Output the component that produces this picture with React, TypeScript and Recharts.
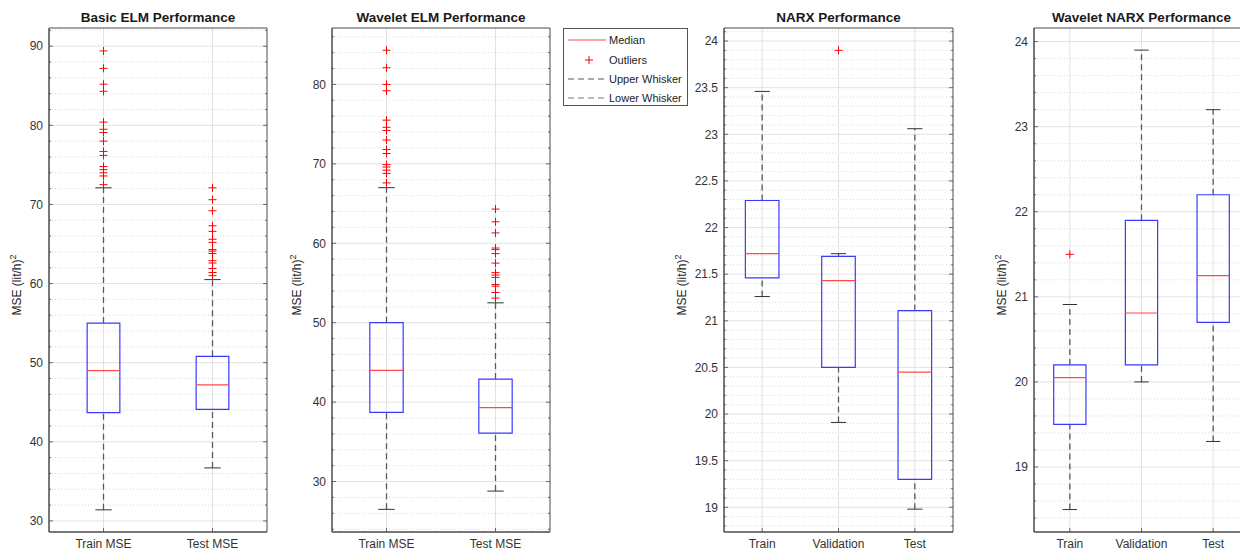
import React from 'react';
import {
  ComposedChart,
  XAxis,
  YAxis,
  CartesianGrid,
  ReferenceArea,
  ReferenceLine,
  Scatter,
} from 'recharts';

const FONT = '"Liberation Sans", Arial, Helvetica, sans-serif';

// ---------- Basic ELM ----------
const basicElmCategories = ['Train MSE', 'Test MSE'];
const basicElmLowerWhisker = [31.4, 36.7];
const basicElmQ1 = [43.7, 44.1];
const basicElmMedian = [49.0, 47.2];
const basicElmQ3 = [55.0, 50.8];
const basicElmUpperWhisker = [72.1, 60.5];
const basicElmTrainOutliers = [72.5, 73.6, 74.0, 74.4, 74.8, 76.2, 76.7, 78.0, 79.1, 79.5, 80.4, 84.3, 85.2, 87.2, 89.4];
const basicElmTestOutliers = [61.0, 61.4, 61.9, 62.6, 62.9, 63.8, 64.1, 64.3, 65.2, 65.6, 66.6, 67.3, 69.2, 70.6, 72.1];
const basicElmTicks = [30, 40, 50, 60, 70, 80, 90];

// ---------- Wavelet ELM ----------
const waveletElmCategories = ['Train MSE', 'Test MSE'];
const waveletElmLowerWhisker = [26.5, 28.8];
const waveletElmQ1 = [38.7, 36.1];
const waveletElmMedian = [44.0, 39.3];
const waveletElmQ3 = [50.0, 42.9];
const waveletElmUpperWhisker = [67.0, 52.5];
const waveletElmTrainOutliers = [67.6, 68.8, 69.2, 69.6, 69.9, 71.3, 71.8, 73.0, 74.2, 74.6, 75.5, 79.2, 80.0, 82.1, 84.3];
const waveletElmTestOutliers = [53.1, 53.8, 54.6, 54.8, 55.7, 56.0, 56.3, 57.5, 58.7, 59.2, 59.4, 61.3, 62.7, 64.3];
const waveletElmTicks = [30, 40, 50, 60, 70, 80];

// ---------- NARX ----------
const narxCategories = ['Train', 'Validation', 'Test'];
const narxLowerWhisker = [21.26, 19.91, 18.98];
const narxQ1 = [21.46, 20.5, 19.3];
const narxMedian = [21.72, 21.43, 20.45];
const narxQ3 = [22.29, 21.69, 21.11];
const narxUpperWhisker = [23.46, 21.72, 23.06];
const narxTrainOutliers: number[] = [];
const narxValidationOutliers = [23.9];
const narxTestOutliers: number[] = [];
const narxTicks = [19, 19.5, 20, 20.5, 21, 21.5, 22, 22.5, 23, 23.5, 24];

// ---------- Wavelet NARX ----------
const waveletNarxCategories = ['Train', 'Validation', 'Test'];
const waveletNarxLowerWhisker = [18.5, 20.0, 19.3];
const waveletNarxQ1 = [19.5, 20.2, 20.7];
const waveletNarxMedian = [20.05, 20.81, 21.25];
const waveletNarxQ3 = [20.2, 21.9, 22.2];
const waveletNarxUpperWhisker = [20.91, 23.9, 23.2];
const waveletNarxTrainOutliers = [21.5];
const waveletNarxValidationOutliers: number[] = [];
const waveletNarxTestOutliers: number[] = [];
const waveletNarxTicks = [19, 20, 21, 22, 23, 24];

type Panel = {
  title: string;
  categories: string[];
  lo: number[];
  q1: number[];
  med: number[];
  q3: number[];
  hi: number[];
  outliers: number[][];
  domain: [number, number];
  majors: number[];
  minorStep: number;
  boxHalf: number;
  capHalf: number;
  left: number;
  width: number;
  yAxisWidth: number;
  rightMargin: number;
  plotWidth: number;
  labelX: number;
};

function minorTicks(domain: [number, number], step: number, majors: number[]) {
  const out: number[] = [];
  const start = Math.ceil(domain[0] / step - 1e-9);
  const end = Math.floor(domain[1] / step + 1e-9);
  for (let k = start; k <= end; k++) {
    const v = Math.round(k * step * 1000) / 1000;
    if (!majors.some((m) => Math.abs(m - v) < 1e-6)) out.push(v);
  }
  return out;
}

const panels: Panel[] = [
  {
    title: 'Basic ELM Performance',
    categories: basicElmCategories,
    lo: basicElmLowerWhisker,
    q1: basicElmQ1,
    med: basicElmMedian,
    q3: basicElmQ3,
    hi: basicElmUpperWhisker,
    outliers: [basicElmTrainOutliers, basicElmTestOutliers],
    domain: [28.6, 92.3],
    majors: basicElmTicks,
    minorStep: 2,
    boxHalf: 0.15,
    capHalf: 0.075,
    left: 0,
    width: 280,
    yAxisWidth: 49,
    rightMargin: 12,
    plotWidth: 218,
    labelX: 17,
  },
  {
    title: 'Wavelet ELM Performance',
    categories: waveletElmCategories,
    lo: waveletElmLowerWhisker,
    q1: waveletElmQ1,
    med: waveletElmMedian,
    q3: waveletElmQ3,
    hi: waveletElmUpperWhisker,
    outliers: [waveletElmTrainOutliers, waveletElmTestOutliers],
    domain: [23.65, 87.1],
    majors: waveletElmTicks,
    minorStep: 2,
    boxHalf: 0.153,
    capHalf: 0.075,
    left: 290,
    width: 270,
    yAxisWidth: 42,
    rightMargin: 9,
    plotWidth: 218,
    labelX: 297,
  },
  {
    title: 'NARX Performance',
    categories: narxCategories,
    lo: narxLowerWhisker,
    q1: narxQ1,
    med: narxMedian,
    q3: narxQ3,
    hi: narxUpperWhisker,
    outliers: [narxTrainOutliers, narxValidationOutliers, narxTestOutliers],
    domain: [18.735, 24.14],
    majors: narxTicks,
    minorStep: 0.1,
    boxHalf: 0.22,
    capHalf: 0.1,
    left: 640,
    width: 320,
    yAxisWidth: 84,
    rightMargin: 6,
    plotWidth: 229,
    labelX: 682,
  },
  {
    title: 'Wavelet NARX Performance',
    categories: waveletNarxCategories,
    lo: waveletNarxLowerWhisker,
    q1: waveletNarxQ1,
    med: waveletNarxMedian,
    q3: waveletNarxQ3,
    hi: waveletNarxUpperWhisker,
    outliers: [waveletNarxTrainOutliers, waveletNarxValidationOutliers, waveletNarxTestOutliers],
    domain: [18.236, 24.16],
    majors: waveletNarxTicks,
    minorStep: 0.2,
    boxHalf: 0.225,
    capHalf: 0.1,
    left: 960,
    width: 300,
    yAxisWidth: 74,
    rightMargin: 10,
    plotWidth: 215,
    labelX: 1002,
  },
];

const PLOT_TOP = 28;
const X_AXIS_H = 17;
const CHART_H = 549;
const AXIS_COLOR = '#4a4a4a';
const TEXT_COLOR = '#333333';
const BOX_COLOR = '#3a3aff';
const MEDIAN_COLOR = '#ff4a4a';
const WHISKER_COLOR = '#5a5a5a';

const isMajor = (majors: number[], v: number) => majors.some((m) => Math.abs(m - v) < 1e-6);

const LeftTick = (props: any) => {
  const { x, y, payload, majors } = props;
  const v = payload.value;
  const major = isMajor(majors, v);
  return (
    <g>
      <line x1={x} x2={x + (major ? 4 : 2)} y1={y} y2={y} stroke={AXIS_COLOR} strokeWidth={0.8} />
      {major && (
        <text x={x - 6} y={y} dy={4.3} textAnchor="end" fontSize={12} fontFamily={FONT} fill={TEXT_COLOR}>
          {String(v)}
        </text>
      )}
    </g>
  );
};

const RightTick = (props: any) => {
  const { x, y, payload, majors } = props;
  const major = isMajor(majors, payload.value);
  return <line x1={x} x2={x - (major ? 4 : 2)} y1={y} y2={y} stroke={AXIS_COLOR} strokeWidth={0.8} />;
};

const BottomTick = (props: any) => {
  const { x, y, payload, categories } = props;
  return (
    <g>
      <line x1={x} x2={x} y1={y} y2={y - 4} stroke={AXIS_COLOR} strokeWidth={0.8} />
      <text x={x} y={y + 15.5} textAnchor="middle" fontSize={12} fontFamily={FONT} fill={TEXT_COLOR}>
        {categories[payload.value - 1]}
      </text>
    </g>
  );
};

const PlusShape = (props: any) => {
  const { cx, cy } = props;
  if (cx == null || cy == null) return null;
  return (
    <g>
      <line x1={cx - 4} x2={cx + 4} y1={cy} y2={cy} stroke="#ff0000" strokeWidth={1} />
      <line x1={cx} x2={cx} y1={cy - 4} y2={cy + 4} stroke="#ff0000" strokeWidth={1} />
    </g>
  );
};

function BoxPanel({ p }: { p: Panel }) {
  const n = p.categories.length;
  const xs = p.categories.map((_, i) => i + 1);
  const minors = minorTicks(p.domain, p.minorStep, p.majors);
  const allTicks = [...minors, ...p.majors].sort((a, b) => a - b);
  const outlierData = p.outliers.flatMap((arr, i) => arr.map((v) => ({ x: i + 1, y: v })));

  return (
    <div style={{ position: 'absolute', left: p.left, top: 0, width: p.width, height: CHART_H }}>
      <ComposedChart
        width={p.width}
        height={CHART_H}
        margin={{ top: PLOT_TOP, right: p.rightMargin, bottom: 0, left: 0 }}
      >
        <CartesianGrid
          horizontalValues={minors}
          vertical={false}
          stroke="#cfcfcf"
          strokeDasharray="1 2"
          strokeWidth={0.8}
        />
        <CartesianGrid
          horizontalValues={p.majors}
          verticalValues={xs}
          stroke="#e2e2e2"
          strokeWidth={1}
        />
        <XAxis
          type="number"
          dataKey="x"
          domain={[0.5, n + 0.5]}
          ticks={xs}
          interval={0}
          allowDataOverflow
          height={X_AXIS_H}
          tickLine={false}
          tickSize={0}
          tickMargin={0}
          axisLine={{ stroke: AXIS_COLOR }}
          tick={<BottomTick categories={p.categories} />}
        />
        <YAxis
          type="number"
          dataKey="y"
          domain={p.domain}
          allowDataOverflow
          ticks={allTicks}
          interval={0}
          width={p.yAxisWidth}
          tickLine={false}
          tickSize={0}
          tickMargin={0}
          axisLine={{ stroke: AXIS_COLOR }}
          tick={<LeftTick majors={p.majors} />}
        />
        <YAxis
          yAxisId="right"
          orientation="right"
          type="number"
          domain={p.domain}
          allowDataOverflow
          ticks={allTicks}
          interval={0}
          width={1}
          tickLine={false}
          tickSize={0}
          tickMargin={0}
          axisLine={false}
          tick={<RightTick majors={p.majors} />}
        />
        {xs.map((x, i) => (
          <ReferenceLine
            key={`wu${i}`}
            segment={[{ x, y: p.q3[i] }, { x, y: p.hi[i] }]}
            stroke={WHISKER_COLOR}
            strokeWidth={1.3}
            strokeDasharray="6 4"
          />
        ))}
        {xs.map((x, i) => (
          <ReferenceLine
            key={`wl${i}`}
            segment={[{ x, y: p.lo[i] }, { x, y: p.q1[i] }]}
            stroke={WHISKER_COLOR}
            strokeWidth={1.3}
            strokeDasharray="6 4"
          />
        ))}
        {xs.map((x, i) => (
          <ReferenceLine
            key={`cu${i}`}
            segment={[{ x: x - p.capHalf, y: p.hi[i] }, { x: x + p.capHalf, y: p.hi[i] }]}
            stroke="#333333"
            strokeWidth={1}
          />
        ))}
        {xs.map((x, i) => (
          <ReferenceLine
            key={`cl${i}`}
            segment={[{ x: x - p.capHalf, y: p.lo[i] }, { x: x + p.capHalf, y: p.lo[i] }]}
            stroke="#333333"
            strokeWidth={1}
          />
        ))}
        {xs.map((x, i) => (
          <ReferenceArea
            key={`b${i}`}
            x1={x - p.boxHalf}
            x2={x + p.boxHalf}
            y1={p.q1[i]}
            y2={p.q3[i]}
            fill="none"
            fillOpacity={0}
            stroke={BOX_COLOR}
            strokeWidth={1.2}
          />
        ))}
        {xs.map((x, i) => (
          <ReferenceLine
            key={`m${i}`}
            segment={[{ x: x - p.boxHalf, y: p.med[i] }, { x: x + p.boxHalf, y: p.med[i] }]}
            stroke={MEDIAN_COLOR}
            strokeWidth={1.2}
          />
        ))}
        <ReferenceArea
          x1={0.5}
          x2={n + 0.5}
          y1={p.domain[0]}
          y2={p.domain[1]}
          fill="none"
          fillOpacity={0}
          stroke={AXIS_COLOR}
          strokeWidth={1}
          ifOverflow="visible"
        />
        <Scatter data={outlierData} shape={<PlusShape />} isAnimationActive={false} />
      </ComposedChart>
    </div>
  );
}

function Legend() {
  return (
    <div
      style={{
        position: 'absolute',
        left: 563,
        top: 28,
        width: 125,
        height: 78,
        border: '1px solid #555',
        background: '#fff',
        boxSizing: 'border-box',
      }}
    >
      <svg width={123} height={76} style={{ display: 'block' }}>
        <line x1={4} x2={42} y1={11} y2={11} stroke="#ff4a4a" strokeWidth={1} />
        <line x1={21} x2={29} y1={31} y2={31} stroke="#ff0000" strokeWidth={1} />
        <line x1={25} x2={25} y1={27} y2={35} stroke="#ff0000" strokeWidth={1} />
        <line x1={4} x2={43} y1={50} y2={50} stroke="#555" strokeWidth={1} strokeDasharray="6 4" />
        <line x1={4} x2={43} y1={69} y2={69} stroke="#777" strokeWidth={1} strokeDasharray="6 4" />
        {['Median', 'Outliers', 'Upper Whisker', 'Lower Whisker'].map((t, i) => (
          <text key={t} x={45} y={[11, 31, 50, 69][i] + 4} fontSize={11} fontFamily={FONT} fill="#222">
            {t}
          </text>
        ))}
      </svg>
    </div>
  );
}

export default function App() {
  return (
    <div
      style={{
        position: 'absolute',
        left: 0,
        top: 0,
        width: 1240,
        height: 549,
        overflow: 'hidden',
        background: '#ffffff',
        fontFamily: FONT,
      }}
    >
      {panels.map((p) => (
        <BoxPanel key={p.title} p={p} />
      ))}
      {panels.map((p) => {
        const plotLeft = p.left + p.yAxisWidth;
        return (
          <div
            key={`t-${p.title}`}
            style={{
              position: 'absolute',
              left: plotLeft,
              width: p.plotWidth,
              top: 9,
              height: 18,
              lineHeight: '18px',
              textAlign: 'center',
              fontSize: 13.5,
              fontWeight: 'bold',
              color: '#1a1a1a',
              whiteSpace: 'nowrap',
            }}
          >
            {p.title}
          </div>
        );
      })}
      {panels.map((p) => (
        <div
          key={`y-${p.title}`}
          style={{
            position: 'absolute',
            left: p.labelX,
            top: 285,
            width: 0,
            height: 0,
          }}
        >
          <div
            style={{
              position: 'absolute',
              left: 0,
              top: 0,
              transform: 'translate(-50%, -50%) rotate(-90deg)',
              fontSize: 12,
              color: '#262626',
              whiteSpace: 'nowrap',
              lineHeight: '14px',
            }}
          >
            MSE (lit/h)<sup style={{ fontSize: 9, verticalAlign: 'super', lineHeight: 0 }}>2</sup>
          </div>
        </div>
      ))}
      <Legend />
    </div>
  );
}
